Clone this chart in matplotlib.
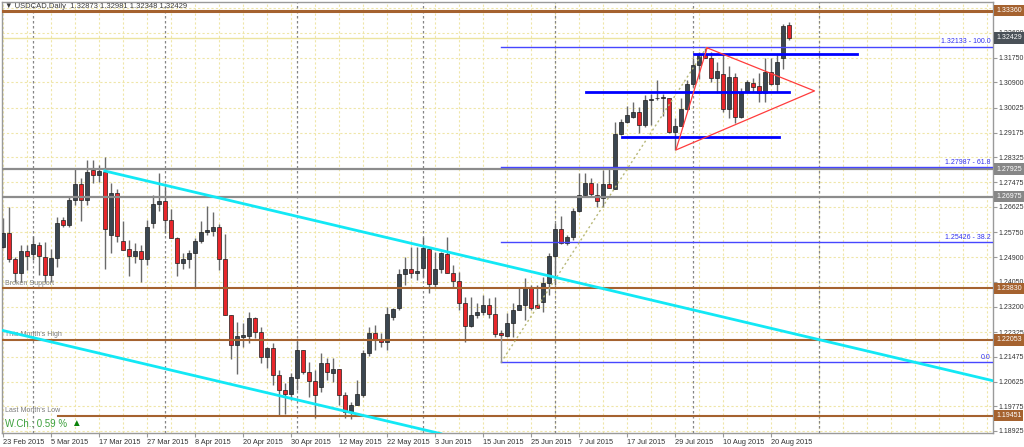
import matplotlib.pyplot as plt
import matplotlib.transforms as mtransforms

plt.rcParams['font.family'] = ['Liberation Sans', 'DejaVu Sans']

# daily USDCAD candles, 23 Feb 2015 .. 25 Aug 2015 (one entry per trading day)
opens = [
    1.2526, 1.2573, 1.2483, 1.2436, 1.2511, 1.2501, 1.2532, 1.2490, 1.2428, 1.2487,
    1.2618, 1.2600, 1.2686, 1.2741, 1.2686, 1.2789, 1.2772, 1.2782, 1.2566, 1.2710,
    1.2545, 1.2518, 1.2494, 1.2511, 1.2483, 1.2607, 1.2672, 1.2683, 1.2618, 1.2556,
    1.2470, 1.2483, 1.2504, 1.2545, 1.2576, 1.2580, 1.2593, 1.2483, 1.2291, 1.2188,
    1.2216, 1.2219, 1.2281, 1.2233, 1.2147, 1.2178, 1.2085, 1.2033, 1.2020, 1.2075,
    1.2171, 1.2095, 1.2064, 1.2044, 1.2126, 1.2092, 1.2106, 1.2017, 1.1958, 1.1982,
    1.2017, 1.2160, 1.2229, 1.2209, 1.2198, 1.2284, 1.2315, 1.2432, 1.2449, 1.2436,
    1.2453, 1.2518, 1.2398, 1.2449, 1.2501, 1.2436, 1.2408, 1.2332, 1.2253, 1.2291,
    1.2301, 1.2325, 1.2294, 1.2229, 1.2219, 1.2264, 1.2308, 1.2325, 1.2384, 1.2325,
    1.2336, 1.2401, 1.2494, 1.2586, 1.2538, 1.2560, 1.2648, 1.2703, 1.2745, 1.2703,
    1.2693, 1.2741, 1.2724, 1.2913, 1.2954, 1.2971, 1.2989, 1.2944, 1.3030, 1.3035,
    1.3036, 1.3037, 1.2920, 1.2940, 1.2999, 1.3085, 1.3150, 1.3188, 1.3174, 1.3105,
    1.3119, 1.2999, 1.3109, 1.2971, 1.3057, 1.3089, 1.3078, 1.3054, 1.3126, 1.3085,
    1.3174, 1.32873]
highs = [
    1.2624, 1.2662, 1.2490, 1.2532, 1.2532, 1.2563, 1.2542, 1.2542, 1.2518, 1.2628,
    1.2628, 1.2697, 1.2796, 1.2762, 1.2824, 1.2824, 1.2806, 1.2834, 1.2745, 1.2724,
    1.2614, 1.2549, 1.2538, 1.2532, 1.2618, 1.2703, 1.2779, 1.2731, 1.2655, 1.2559,
    1.2504, 1.2514, 1.2556, 1.2614, 1.2666, 1.2645, 1.2604, 1.2569, 1.2291, 1.2267,
    1.2264, 1.2301, 1.2284, 1.2250, 1.2181, 1.2195, 1.2102, 1.2057, 1.2092, 1.2202,
    1.2171, 1.2130, 1.2102, 1.2160, 1.2143, 1.2143, 1.2106, 1.2027, 1.1993, 1.2068,
    1.2171, 1.2250, 1.2257, 1.2229, 1.2319, 1.2315, 1.2449, 1.2490, 1.2525, 1.2525,
    1.2559, 1.2521, 1.2508, 1.2508, 1.2559, 1.2463, 1.2439, 1.2353, 1.2353, 1.2332,
    1.2360, 1.2349, 1.2353, 1.2240, 1.2298, 1.2332, 1.2384, 1.2418, 1.2394, 1.2394,
    1.2422, 1.2504, 1.2607, 1.2631, 1.2566, 1.2659, 1.2779, 1.2779, 1.2762, 1.2745,
    1.2789, 1.2800, 1.2954, 1.2965, 1.3009, 1.3023, 1.3006, 1.3047, 1.3050, 1.3099,
    1.3050, 1.3037, 1.2968, 1.3037, 1.3099, 1.3174, 1.3195, 1.3208, 1.3195, 1.3160,
    1.3184, 1.3147, 1.3122, 1.3071, 1.3099, 1.3105, 1.3122, 1.3174, 1.3174, 1.3188,
    1.3290, 1.32981]
lows = [
    1.2521, 1.2473, 1.2404, 1.2404, 1.2446, 1.2480, 1.2428, 1.2404, 1.2404, 1.2456,
    1.2593, 1.2593, 1.2669, 1.2614, 1.2669, 1.2745, 1.2748, 1.2449, 1.2504, 1.2542,
    1.2514, 1.2425, 1.2470, 1.2404, 1.2463, 1.2590, 1.2648, 1.2573, 1.2556, 1.2425,
    1.2449, 1.2453, 1.2387, 1.2538, 1.2566, 1.2563, 1.2446, 1.2291, 1.2140, 1.2088,
    1.2181, 1.2195, 1.2212, 1.2126, 1.2109, 1.2051, 1.1948, 1.1951, 1.1999, 1.2033,
    1.2088, 1.2010, 1.1937, 1.2027, 1.2068, 1.2061, 1.1982, 1.1937, 1.1934, 1.1982,
    1.2010, 1.2150, 1.2171, 1.2181, 1.2171, 1.2274, 1.2308, 1.2394, 1.2418, 1.2411,
    1.2422, 1.2367, 1.2387, 1.2436, 1.2436, 1.2384, 1.2308, 1.2198, 1.2250, 1.2281,
    1.2291, 1.2281, 1.2216, 1.2216, 1.2216, 1.2216, 1.2308, 1.2274, 1.2308, 1.2315,
    1.2301, 1.2360, 1.2394, 1.2535, 1.2532, 1.2550, 1.2645, 1.2697, 1.2697, 1.2662,
    1.2662, 1.2727, 1.2724, 1.2910, 1.2951, 1.2968, 1.2916, 1.2937, 1.2944, 1.3030,
    1.2975, 1.2916, 1.2858, 1.2940, 1.2995, 1.3075, 1.3102, 1.3174, 1.3092, 1.3054,
    1.2989, 1.2968, 1.2951, 1.2968, 1.3054, 1.3057, 1.3023, 1.3023, 1.3082, 1.3057,
    1.3136, 1.32348]
closes = [
    1.2573, 1.2483, 1.2436, 1.2511, 1.2494, 1.2535, 1.2494, 1.2428, 1.2487, 1.2607,
    1.2600, 1.2686, 1.2741, 1.2686, 1.2782, 1.2772, 1.2786, 1.2586, 1.2710, 1.2563,
    1.2514, 1.2494, 1.2511, 1.2483, 1.2593, 1.2672, 1.2683, 1.2618, 1.2556, 1.2470,
    1.2483, 1.2504, 1.2545, 1.2576, 1.2583, 1.2593, 1.2483, 1.2291, 1.2188, 1.2219,
    1.2222, 1.2281, 1.2233, 1.2147, 1.2178, 1.2085, 1.2033, 1.2020, 1.2078, 1.2171,
    1.2095, 1.2064, 1.2017, 1.2126, 1.2095, 1.2106, 1.2017, 1.1958, 1.1982, 1.2020,
    1.2160, 1.2229, 1.2209, 1.2198, 1.2294, 1.2312, 1.2432, 1.2449, 1.2436, 1.2443,
    1.2521, 1.2398, 1.2449, 1.2504, 1.2436, 1.2408, 1.2332, 1.2253, 1.2291, 1.2301,
    1.2325, 1.2294, 1.2226, 1.2222, 1.2264, 1.2308, 1.2325, 1.2384, 1.2315, 1.2315,
    1.2401, 1.2494, 1.2586, 1.2538, 1.2559, 1.2648, 1.2703, 1.2745, 1.2707, 1.2683,
    1.2741, 1.2727, 1.2913, 1.2954, 1.2978, 1.2989, 1.2944, 1.3030, 1.3033, 1.3037,
    1.3039, 1.2920, 1.2940, 1.2999, 1.3085, 1.3150, 1.3188, 1.3174, 1.3105, 1.3129,
    1.2999, 1.3109, 1.2971, 1.3057, 1.3092, 1.3075, 1.3054, 1.3126, 1.3085, 1.3160,
    1.3285, 1.32429]

date_labels = ["23 Feb 2015", "5 Mar 2015", "17 Mar 2015", "27 Mar 2015", "8 Apr 2015",
               "20 Apr 2015", "30 Apr 2015", "12 May 2015", "22 May 2015", "3 Jun 2015",
               "15 Jun 2015", "25 Jun 2015", "7 Jul 2015", "17 Jul 2015", "29 Jul 2015",
               "10 Aug 2015", "20 Aug 2015"]
price_labels = ["1.33450", "1.32600", "1.31750", "1.30900", "1.30025", "1.29175",
                "1.28325", "1.27475", "1.26625", "1.25750", "1.24900", "1.24050",
                "1.23200", "1.22325", "1.21475", "1.20625", "1.19775", "1.18925"]
month_starts = [5, 27, 49, 70, 92, 115, 136]

# horizontal levels
top_level = 1.33360
last_price = 1.32429
gray_levels = [1.27925, 1.26975]
brown_levels = [1.23830, 1.22053, 1.19451]
brown_names = ["Broken Support", "This Month's High", "Last Month's Low"]
brown_starts = [-1, -1, 9.2]
fib_prices = [1.32133, 1.27987, 1.25426, 1.2128]
fib_names = ["1.32133 - 100.0", "1.27987 - 61.8", "1.25426 - 38.2", "0.0"]
fib_anchor = (83.05, 117.4)
# thick blue support/resistance segments: (price, start bar, end bar)
blue_segments = [(1.31878, 115.2, 142.4), (1.30573, 97.2, 131.0), (1.29027, 103.2, 129.4)]
# channel lines (bar, price)
upper_channel = [(17.0, 1.2786), (165.5, 1.2063)]
lower_channel = [(-1.0, 1.22427), (73.0, 1.18832)]
triangle = [(117.4, 1.3209), (135.3, 1.3061), (112.2, 1.2858)]

BROWN = '#a5622f'
FS = 5.0
fig = plt.figure(figsize=(10.24, 4.47), dpi=100)
ax = fig.add_axes([2 / 1024, 14 / 447, 991 / 1024, 431 / 447])
ax.set_xlim(-0.12, 165.05)
ax.set_ylim(1.18856, 1.33665)
yax = mtransforms.blended_transform_factory(ax.transAxes, ax.transData)

# grid
for g in range(0, 166, 4):
    ax.axvline(g, color='#efe6a8', lw=0.8, ls=(0, (2, 2)), zorder=0)
for p in price_labels:
    ax.axhline(float(p), color='#efe6a8', lw=0.8, ls=(0, (2, 2)), zorder=0)
for m in month_starts:
    ax.axvline(m, color='#858585', lw=0.9, ls=(0, (2, 2)), zorder=0.5)

# candles
for i in range(len(opens)):
    o, h, l, c = opens[i], highs[i], lows[i], closes[i]
    ax.vlines(i, l, h, color='#6a6a6a', lw=1, zorder=2)
    body = max(abs(c - o), 0.00025)
    fc = '#3b4650' if c >= o else '#e8262b'
    ax.bar(i, body, bottom=min(o, c), width=0.64, color=fc,
           edgecolor='#1e1e1e', lw=0.5, zorder=3)

# horizontal levels
ax.axhline(top_level, color=BROWN, lw=2.2, zorder=4)
ax.plot([-1, 156], [last_price, last_price], color='#ece4a0', lw=1, zorder=1)
for p in gray_levels:
    ax.axhline(p, color='#8c8c8c', lw=1.6, zorder=4)
for p, name, x0 in zip(brown_levels, brown_names, brown_starts):
    ax.plot([x0, 170], [p, p], color=BROWN, lw=1.5, zorder=4)
    ax.text(0.35, p + 0.0005, name, fontsize=FS, color='#7c7c7c', va='bottom', zorder=5)

# fibonacci
for p, name in zip(fib_prices, fib_names):
    ax.plot([fib_anchor[0], 170], [p, p], color='#4646ff', lw=1, zorder=4)
    ax.text(0.9975, p + 0.0004, name, transform=yax, fontsize=FS,
            color='#3030f0', ha='right', va='bottom', zorder=5)
ax.plot(fib_anchor, [fib_prices[3], fib_prices[0]], color='#b8b878', lw=1,
        ls=(0, (1.5, 2)), zorder=4)
ax.plot([fib_anchor[0], fib_anchor[0]], [1.2216, fib_prices[3]], color='#909090', lw=1, zorder=4)

for p, x0, x1 in blue_segments:
    ax.plot([x0, x1], [p, p], color='#0000ff', lw=2, zorder=5)

for line in (upper_channel, lower_channel):
    ax.plot([line[0][0], line[1][0]], [line[0][1], line[1][1]],
            color='#12e8f5', lw=2, zorder=5)

tri_x = [pt[0] for pt in triangle] + [triangle[0][0]]
tri_y = [pt[1] for pt in triangle] + [triangle[0][1]]
ax.plot(tri_x, tri_y, color='#ff3c3c', lw=0.9, zorder=5)

# axes styling
for s in ax.spines.values():
    s.set_color('#9a9a9a')
    s.set_linewidth(1)
ax.yaxis.tick_right()
ax.set_yticks([float(p) for p in price_labels])
ax.set_yticklabels(price_labels)
ax.tick_params(axis='y', length=3, pad=0.8, labelsize=FS, colors='#9a9a9a', labelcolor='#333333')
ax.set_xticks(range(0, 8 * len(date_labels), 8))
ax.set_xticklabels(date_labels)
for lbl in ax.get_xticklabels():
    lbl.set_ha('left')
ax.tick_params(axis='x', length=3, pad=1.5, labelsize=5.3, colors='#9a9a9a', labelcolor='#333333')

# price tags on the right axis
def tag(price, color):
    ax.text(1.0 + 3 / 991, price, '%.5f' % price, transform=yax, fontsize=FS, color='white',
            ha='left', va='center', zorder=10,
            bbox=dict(boxstyle='square,pad=0.3', fc=color, ec='none'))

tag(top_level, BROWN)
tag(last_price, '#4a5158')
for p in gray_levels:
    tag(p, '#878787')
for p in brown_levels:
    tag(p, BROWN)

fig.text(5 / 1024, 1 - 7 / 447, '\u25bc USDCAD,Daily  1.32873 1.32981 1.32348 1.32429',
         fontsize=5.5, color='#3c3c3c', va='center')
fig.text(5 / 1024, 1 - 424 / 447, 'W.Ch.: 0.59 %', fontsize=7, color='#3ca03c', va='center')
fig.text(71 / 1024, 1 - 423 / 447, '\u25b2', fontsize=7, color='#0a820a', va='center')

fig.savefig('out.png', dpi=100, facecolor='white')
